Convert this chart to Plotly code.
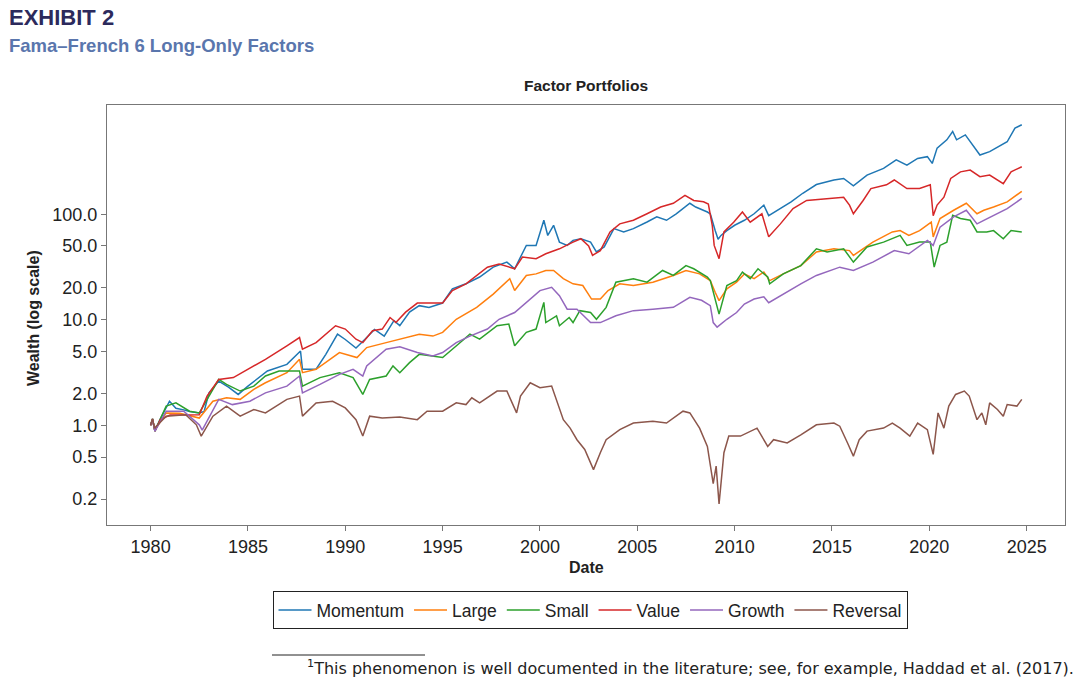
import plotly.graph_objects as go

# ---------------- data ----------------
series_names = ["Momentum", "Large", "Small", "Value", "Growth", "Reversal"]
series_colors = ["#1f77b4", "#ff7f0e", "#2ca02c", "#d62728", "#9467bd", "#8c564b"]

momentum_dates = [1980.0, 1980.1, 1980.22, 1980.5, 1980.97, 1981.3, 1981.7, 1982.0, 1982.5, 1982.75,
                  1983.0, 1983.5, 1984.0, 1984.5, 1985.0, 1986.0, 1987.0, 1987.7, 1987.8, 1988.5,
                  1989.0, 1989.6, 1990.0, 1990.55, 1991.0, 1991.5, 1992.0, 1992.5, 1992.8, 1993.3,
                  1993.8, 1994.3, 1995.0, 1995.5, 1996.2, 1996.9, 1997.6, 1998.3, 1998.7, 1999.3,
                  1999.8, 2000.2, 2000.4, 2000.7, 2001.0, 2001.4, 2001.7, 2002.1, 2002.6, 2002.9,
                  2003.3, 2003.8, 2004.3, 2004.8, 2005.5, 2006.0, 2006.5, 2007.0, 2007.7, 2008.0,
                  2008.6, 2008.75, 2009.0, 2009.15, 2009.3, 2009.6, 2010.0, 2010.5, 2011.0, 2011.5,
                  2011.75, 2012.2, 2012.9, 2013.5, 2014.2, 2015.1, 2015.6, 2016.1, 2016.8, 2017.65,
                  2018.3, 2018.85, 2019.4, 2019.9, 2020.15, 2020.4, 2020.9, 2021.2, 2021.4, 2021.85,
                  2022.3, 2022.6, 2023.1, 2023.65, 2024.0, 2024.4, 2024.75]
momentum_values = [1.00, 1.15, 0.88, 1.15, 1.69, 1.45, 1.40, 1.35, 1.31, 1.35,
                   2.03, 2.62, 2.30, 1.96, 2.35, 3.27, 3.78, 5.06, 3.39, 3.40,
                   4.70, 7.30, 6.50, 5.40, 6.50, 8.10, 7.00, 9.80, 8.80, 11.8,
                   13.6, 13.1, 14.4, 19.6, 21.9, 25.4, 31.5, 35.2, 30.4, 50.6,
                   50.6, 87.6, 62.9, 78.6, 54.4, 50.6, 56.5, 58.6, 54.4, 43.9,
                   49.0, 73.0, 67.9, 73.0, 84.4, 94.3, 87.6, 101, 127, 117,
                   105, 101, 70, 58, 63, 70, 78.6, 87.6, 101, 122,
                   97, 109, 131, 158, 191, 211, 218, 186, 235, 272,
                   327, 292, 338, 351, 303, 423, 507, 608, 507, 565,
                   438, 364, 392, 452, 486, 655, 705]

large_dates = [1980.0, 1980.1, 1980.22, 1980.8, 1981.5, 1982.5, 1983.2, 1983.9, 1984.6, 1985.3,
               1985.9, 1987.0, 1987.65, 1987.8, 1988.5, 1989.7, 1990.6, 1991.1, 1992.1, 1993.1,
               1993.8, 1994.5, 1995.0, 1995.7, 1996.75, 1997.6, 1998.45, 1998.7, 1999.3, 1999.8,
               2000.3, 2000.7, 2001.2, 2001.7, 2002.2, 2002.65, 2003.1, 2003.5, 2004.1, 2004.8,
               2005.8, 2006.85, 2007.5, 2008.2, 2008.75, 2009.0, 2009.2, 2009.6, 2010.1, 2010.5,
               2011.0, 2011.5, 2011.8, 2012.5, 2013.4, 2014.2, 2015.1, 2015.9, 2016.1, 2017.1,
               2018.1, 2018.5, 2018.95, 2019.5, 2020.1, 2020.2, 2020.55, 2021.25, 2021.9, 2022.45,
               2022.8, 2023.3, 2024.0, 2024.75]
large_values = [1.00, 1.12, 0.90, 1.31, 1.30, 1.17, 1.69, 1.82, 1.76, 2.19,
                2.53, 3.15, 4.22, 3.15, 3.39, 4.89, 4.38, 5.45, 6.07, 6.78,
                7.30, 7.00, 7.60, 10.1, 13.1, 17.5, 24.5, 18.9, 26.3, 27.2,
                29.3, 29.3, 24.5, 21.9, 21.1, 15.7, 15.7, 18.9, 21.9, 21.1,
                22.7, 26.3, 29.3, 27.2, 23.5, 18.2, 15.2, 19.6, 22.7, 27.2,
                24.5, 28.3, 23.5, 27.2, 32.6, 43.9, 47.0, 45.2, 40.7, 54.4,
                68, 70, 63, 70, 84, 61, 91, 109, 127, 101,
                109, 117, 131, 165]

small_dates = [1980.0, 1980.1, 1980.22, 1980.8, 1981.3, 1982.0, 1982.5, 1982.9, 1983.5, 1983.9,
               1984.6, 1985.3, 1985.9, 1986.6, 1987.65, 1987.8, 1988.7, 1989.7, 1990.4, 1990.9,
               1991.25, 1992.1, 1992.45, 1992.8, 1993.3, 1993.8, 1994.5, 1995.0, 1995.8, 1996.4,
               1996.9, 1997.8, 1998.4, 1998.7, 1999.3, 1999.8, 2000.2, 2000.3, 2000.85, 2001.0,
               2001.5, 2001.7, 2002.05, 2002.6, 2002.9, 2003.4, 2003.9, 2004.8, 2005.5, 2006.3,
               2006.85, 2007.5, 2007.9, 2008.6, 2008.75, 2009.0, 2009.2, 2009.6, 2010.1, 2010.4,
               2010.8, 2011.2, 2011.7, 2011.8, 2012.5, 2013.4, 2014.2, 2014.75, 2015.6, 2016.1,
               2016.8, 2017.65, 2018.5, 2018.85, 2019.5, 2020.05, 2020.25, 2020.55, 2020.9, 2021.2,
               2021.6, 2022.1, 2022.45, 2022.95, 2023.3, 2023.8, 2024.2, 2024.75]
small_values = [1.00, 1.15, 0.88, 1.52, 1.63, 1.36, 1.31, 1.76, 2.72, 2.44,
                2.11, 2.35, 2.93, 3.27, 3.27, 2.35, 2.83, 3.15, 2.83, 1.96,
                2.72, 2.93, 3.65, 3.15, 3.92, 4.70, 4.54, 4.38, 5.86, 7.30,
                6.54, 8.77, 9.10, 5.66, 7.60, 8.16, 14.6, 9.4, 10.9, 8.77,
                10.5, 9.4, 12.2, 11.7, 10.1, 13.1, 22.7, 24.5, 22.7, 29.3,
                26.3, 32.6, 30.4, 25.4, 23.5, 15.7, 11.3, 21.1, 23.5, 28.3,
                24.5, 30.4, 25.4, 21.9, 27.2, 32.6, 47.0, 43.9, 47.0, 35.2,
                48.9, 54.4, 63, 50.6, 54.4, 54.4, 31.5, 50.6, 54.4, 97.6,
                91, 87.6, 68, 68, 70, 58.6, 70, 68]

value_dates = [1980.0, 1980.1, 1980.22, 1980.5, 1981.0, 1981.7, 1982.5, 1982.9, 1983.5, 1984.25,
               1985.0, 1985.9, 1987.0, 1987.65, 1987.8, 1988.5, 1989.5, 1990.0, 1990.55, 1990.9,
               1991.4, 1991.9, 1992.3, 1992.6, 1993.1, 1993.7, 1995.0, 1995.5, 1996.2, 1997.3,
               1997.9, 1998.7, 1999.1, 1999.8, 2000.3, 2001.0, 2001.7, 2002.1, 2002.5, 2002.7,
               2003.1, 2003.6, 2004.1, 2004.8, 2005.5, 2006.2, 2006.85, 2007.45, 2007.9, 2008.4,
               2008.65, 2008.85, 2008.95, 2009.2, 2009.45, 2009.95, 2010.4, 2010.8, 2011.4, 2011.75,
               2012.35, 2013.0, 2013.7, 2014.75, 2015.6, 2015.9, 2016.1, 2016.6, 2017.0, 2017.8,
               2018.2, 2018.85, 2019.5, 2020.05, 2020.2, 2020.4, 2020.75, 2021.1, 2021.6, 2022.1,
               2022.6, 2023.1, 2023.8, 2024.2, 2024.75]
value_values = [1.00, 1.15, 0.88, 1.13, 1.25, 1.25, 1.26, 1.89, 2.72, 2.83,
                3.39, 4.22, 5.66, 6.78, 5.25, 6.07, 8.77, 8.16, 6.54, 6.07,
                7.86, 8.16, 10.5, 9.4, 11.8, 14.4, 14.4, 18.9, 21.9, 31.5,
                33.8, 30.4, 39.3, 37.9, 42.2, 47.0, 54.4, 58.6, 50.0, 40.8,
                45.2, 68.0, 81.0, 87.6, 101, 117, 127, 151, 135, 131,
                125, 78.6, 50.6, 37.9, 68, 84, 105, 84, 101, 61,
                81, 113, 135, 140, 145, 122, 101, 135, 175, 190,
                211, 175, 175, 190, 97, 122, 145, 218, 252, 262,
                227, 235, 195, 252, 282]

growth_dates = [1980.0, 1980.1, 1980.22, 1980.8, 1981.7, 1982.5, 1982.65, 1983.0, 1983.5, 1984.2,
                1985.1, 1985.9, 1987.0, 1987.65, 1987.8, 1988.7, 1989.7, 1990.4, 1990.9, 1991.1,
                1992.1, 1992.8, 1993.7, 1994.5, 1995.0, 1995.7, 1996.4, 1997.3, 1997.9, 1998.7,
                1999.3, 2000.0, 2000.6, 2001.0, 2001.4, 2001.9, 2002.6, 2003.1, 2003.9, 2004.8,
                2005.8, 2006.85, 2007.7, 2008.3, 2008.75, 2008.9, 2009.1, 2009.6, 2010.1, 2010.5,
                2011.0, 2011.5, 2011.75, 2012.35, 2013.4, 2014.2, 2015.4, 2016.1, 2017.1, 2018.2,
                2018.95, 2019.9, 2020.2, 2020.55, 2021.25, 2021.9, 2022.45, 2022.8, 2023.3, 2024.0,
                2024.75]
growth_values = [1.00, 1.12, 0.88, 1.36, 1.36, 1.01, 0.90, 1.20, 1.76, 1.57,
                 1.69, 2.03, 2.35, 2.93, 2.03, 2.44, 3.04, 3.39, 2.93, 3.65,
                 5.25, 5.55, 4.89, 4.54, 4.89, 6.07, 7.00, 8.16, 10.1, 11.7,
                 14.6, 18.9, 20.3, 16.9, 12.6, 12.6, 9.4, 9.4, 10.9, 12.2,
                 12.6, 13.1, 16.3, 15.3, 13.6, 9.4, 8.5, 10.1, 11.7, 14.1,
                 15.7, 16.5, 14.5, 16.9, 21.9, 26.3, 31.5, 29.3, 35.2, 45.2,
                 42.2, 56.5, 50.6, 75.5, 94.3, 109, 81, 87.6, 97.6, 113,
                 141]

reversal_dates = [1980.0, 1980.1, 1980.2, 1980.8, 1981.8, 1982.35, 1982.6, 1983.2, 1983.9, 1984.6,
                  1985.3, 1985.9, 1987.0, 1987.65, 1987.8, 1988.5, 1989.35, 1990.0, 1990.55, 1990.9,
                  1991.25, 1991.9, 1992.8, 1993.7, 1994.2, 1995.0, 1995.7, 1996.2, 1996.5, 1996.9,
                  1997.8, 1998.3, 1998.8, 1999.0, 1999.5, 2000.0, 2000.6, 2000.85, 2001.2, 2001.55,
                  2001.9, 2002.3, 2002.6, 2002.75, 2003.1, 2003.4, 2004.1, 2004.8, 2005.8, 2006.5,
                  2007.35, 2007.7, 2008.2, 2008.6, 2008.9, 2009.05, 2009.2, 2009.45, 2009.7, 2010.3,
                  2011.15, 2011.7, 2012.0, 2012.7, 2013.4, 2014.2, 2015.1, 2015.4, 2015.8, 2016.1,
                  2016.4, 2016.8, 2017.65, 2018.1, 2018.5, 2019.0, 2019.4, 2019.9, 2020.2, 2020.45,
                  2020.75, 2021.0, 2021.35, 2021.8, 2022.05, 2022.45, 2022.7, 2022.9, 2023.1, 2023.5,
                  2023.8, 2024.0, 2024.5, 2024.75]
reversal_values = [1.00, 1.15, 0.94, 1.22, 1.26, 1.01, 0.79, 1.22, 1.52, 1.22,
                   1.41, 1.31, 1.76, 1.89, 1.22, 1.63, 1.69, 1.46, 1.13, 0.79,
                   1.22, 1.17, 1.20, 1.13, 1.36, 1.36, 1.63, 1.57, 1.82, 1.63,
                   2.11, 2.11, 1.31, 1.89, 2.53, 2.27, 2.35, 1.76, 1.13, 0.94,
                   0.73, 0.59, 0.44, 0.38, 0.55, 0.73, 0.91, 1.05, 1.09, 1.05,
                   1.36, 1.31, 0.94, 0.63, 0.28, 0.41, 0.18, 0.55, 0.79, 0.79,
                   0.94, 0.63, 0.73, 0.68, 0.81, 1.01, 1.05, 0.98, 0.68, 0.51,
                   0.73, 0.88, 0.94, 1.05, 0.94, 0.79, 1.05, 0.91, 0.53, 1.31,
                   0.94, 1.52, 1.96, 2.11, 1.89, 1.13, 1.31, 1.01, 1.63, 1.41,
                   1.22, 1.57, 1.52, 1.76]

x_ticks = [1980, 1985, 1990, 1995, 2000, 2005, 2010, 2015, 2020, 2025]
y_ticks = [0.2, 0.5, 1.0, 2.0, 5.0, 10.0, 20.0, 50.0, 100.0]
y_tick_labels = ["0.2", "0.5", "1.0", "2.0", "5.0", "10.0", "20.0", "50.0", "100.0"]

# ---------------- layout helpers ----------------
W, H = 1080, 686
L, R, T, B = 107, 1065, 105, 525


def px_x(px):
    return (px - L) / (R - L)


def px_y(py):
    return (B - py) / (B - T)


FONT = "Liberation Sans, Arial, sans-serif"

series = [
    (momentum_dates, momentum_values),
    (large_dates, large_values),
    (small_dates, small_values),
    (value_dates, value_values),
    (growth_dates, growth_values),
    (reversal_dates, reversal_values),
]

fig = go.Figure()
for name, color, (xs, ys) in zip(series_names, series_colors, series):
    fig.add_trace(go.Scatter(x=xs, y=ys, mode="lines", name=name,
                             line=dict(color=color, width=1.5)))

fig.update_layout(
    width=W, height=H,
    margin=dict(l=L, r=W - R, t=T, b=H - B, autoexpand=False),
    paper_bgcolor="white", plot_bgcolor="white",
    font=dict(family=FONT, color="#222222"),
    showlegend=True,
    legend=dict(orientation="h", x=px_x(590), xanchor="center", y=px_y(591), yanchor="top",
                bordercolor="#222222", borderwidth=1, font=dict(size=17.5, family=FONT),
                itemwidth=33, tracegroupgap=0),
)

fig.update_xaxes(range=[1977.76, 2026.97], tickvals=x_ticks, ticks="outside", ticklen=5,
                 tickcolor="#777777", showline=True, linecolor="#777777", linewidth=1.3,
                 mirror=True, showgrid=False, zeroline=False,
                 tickfont=dict(size=18, color="#222222"))
fig.update_yaxes(type="log", range=[-0.945, 3.035], tickvals=y_ticks, ticktext=y_tick_labels,
                 ticks="outside", ticklen=5, tickcolor="#777777", showline=True,
                 linecolor="#777777", linewidth=1.3, mirror=True, showgrid=False,
                 zeroline=False, tickfont=dict(size=18, color="#222222"))

ann = [
    dict(text="<b>EXHIBIT 2</b>", x=px_x(7), y=px_y(17), xanchor="left", yanchor="middle",
         font=dict(size=22, color="#2c2a5c", family=FONT)),
    dict(text="<b>Fama–French 6 Long-Only Factors</b>", x=px_x(7), y=px_y(45), xanchor="left",
         yanchor="middle", font=dict(size=18.5, color="#5a76ad", family=FONT)),
    dict(text="<b>Factor Portfolios</b>", x=px_x(586), y=px_y(86), xanchor="center",
         yanchor="middle", font=dict(size=15.5, color="#222222", family=FONT)),
    dict(text="<b>Wealth (log scale)</b>", x=px_x(33), y=px_y(318), xanchor="center",
         yanchor="middle", textangle=-90, font=dict(size=16, color="#222222", family=FONT)),
    dict(text="<b>Date</b>", x=px_x(586), y=px_y(567), xanchor="center", yanchor="middle",
         font=dict(size=16, color="#222222", family=FONT)),
    dict(text="<sup>1</sup>This phenomenon is well documented in the literature; see, for example, Haddad et al. (2017).",
         x=px_x(1076), y=px_y(667), xanchor="right", yanchor="middle",
         font=dict(size=16, color="#222222", family="DejaVu Sans, sans-serif")),
]
for a in ann:
    a.update(xref="paper", yref="paper", showarrow=False)
fig.update_layout(annotations=ann)

fig.add_shape(type="line", xref="paper", yref="paper", x0=px_x(272), x1=px_x(425),
              y0=px_y(655), y1=px_y(655), line=dict(color="#222222", width=1))

fig.write_html(
    "out.html",
    config={"displayModeBar": False},
    post_script="document.body.style.margin='0';document.body.style.overflow='hidden';",
)
